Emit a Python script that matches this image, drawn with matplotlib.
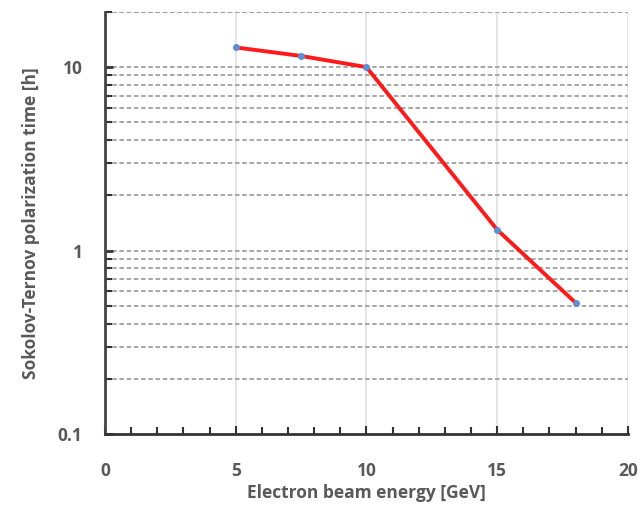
import matplotlib.pyplot as plt
from matplotlib.ticker import FixedLocator, FixedFormatter, MultipleLocator

# data
energy = [5, 7.5, 10, 15, 18]
pol_time = [12.8, 11.5, 10.0, 1.3, 0.52]

x_ticks = [0, 5, 10, 15, 20]
y_ticks = [0.1, 1, 10]
y_tick_labels = ["0.1", "1", "10"]
y_minor = [m * d for d in (0.1, 1, 10) for m in range(2, 10)] + [20]

txt = "#595959"
plt.rcParams['font.family'] = ['Open Sans', 'DejaVu Sans']

fig = plt.figure(figsize=(6.4, 5.15), dpi=100)
ax = fig.add_axes([0.164, 0.157, 0.817, 0.820])

ax.set_yscale('log')
ax.set_xlim(0, 20)
ax.set_ylim(0.1, 20)

# gridlines
for y in y_minor + [1, 10]:
    ax.axhline(y, color="#a0a0a0", lw=1.3, ls=(0, (2.5, 1.5)), zorder=1)
for x in [5, 10, 15, 20]:
    ax.axvline(x, color="#e0e0e0", lw=1.2, zorder=0.5)

ax.plot(energy, pol_time, color="#ff1a1a", lw=2.8, zorder=3)
ax.plot(energy, pol_time, 'o', color="#5b8fd6", ms=4, zorder=4)

ax.xaxis.set_major_locator(FixedLocator(x_ticks))
ax.xaxis.set_minor_locator(MultipleLocator(1))
ax.yaxis.set_major_locator(FixedLocator(y_ticks))
ax.yaxis.set_major_formatter(FixedFormatter(y_tick_labels))
ax.yaxis.set_minor_locator(FixedLocator(y_minor[:-1]))
ax.yaxis.set_minor_formatter(FixedFormatter([]))

ax.tick_params(axis='both', which='both', direction='in', color="#333333",
               labelcolor=txt, labelsize=12.5)
ax.tick_params(axis='x', which='major', length=6, width=1.5, pad=20)
ax.tick_params(axis='x', which='minor', length=5, width=1.5)
ax.tick_params(axis='y', which='major', length=6, width=2, pad=16)
ax.tick_params(axis='y', which='minor', length=5, width=1.5)
for lab in ax.get_xticklabels() + ax.get_yticklabels():
    lab.set_fontweight('bold')

ax.spines['top'].set_visible(False)
ax.spines['right'].set_visible(False)
ax.spines['left'].set_color("#444444")
ax.spines['left'].set_linewidth(2)
ax.spines['bottom'].set_color("#333333")
ax.spines['bottom'].set_linewidth(2)

ax.set_xlabel("Electron beam energy [GeV]", color=txt, fontsize=12.5,
              fontweight='bold', labelpad=3)
ax.set_ylabel("Sokolov-Ternov polarization time [h]", color=txt, fontsize=12.5,
              fontweight='bold', labelpad=13)

fig.savefig("out.png", dpi=100)
